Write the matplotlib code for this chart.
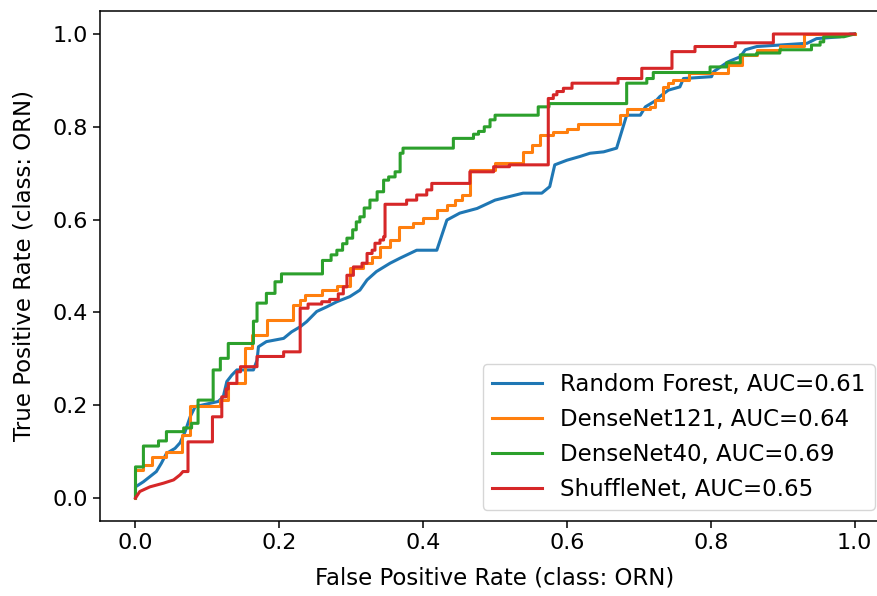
import matplotlib
matplotlib.use("Agg")
import matplotlib.pyplot as plt

# ROC curve points (false positive rate, true positive rate) per model
rf_fpr = [0, 0, 0.011, 0.029, 0.036, 0.043, 0.055, 0.062, 0.069, 0.076, 0.083, 0.115, 0.122,
          0.127, 0.134, 0.141, 0.164, 0.169, 0.171, 0.182, 0.206, 0.217, 0.229, 0.238, 0.252,
          0.266, 0.280, 0.298, 0.312, 0.322, 0.335, 0.354, 0.368, 0.391, 0.419, 0.433, 0.451,
          0.475, 0.500, 0.539, 0.565, 0.576, 0.583, 0.600, 0.618, 0.632, 0.651, 0.669, 0.683,
          0.702, 0.709, 0.725, 0.729, 0.741, 0.757, 0.762, 0.801, 0.804, 0.824, 0.841, 0.848,
          0.864, 0.934, 0.947, 0.980, 0.994, 1.0]
rf_tpr = [0, 0.024, 0.035, 0.057, 0.075, 0.096, 0.107, 0.119, 0.143, 0.175, 0.197, 0.208, 0.218,
          0.251, 0.265, 0.276, 0.276, 0.297, 0.326, 0.337, 0.344, 0.358, 0.369, 0.380, 0.402,
          0.412, 0.423, 0.434, 0.448, 0.470, 0.488, 0.506, 0.517, 0.534, 0.534, 0.599, 0.614,
          0.624, 0.642, 0.657, 0.657, 0.671, 0.718, 0.728, 0.736, 0.743, 0.746, 0.754, 0.825,
          0.825, 0.843, 0.858, 0.865, 0.879, 0.886, 0.904, 0.908, 0.919, 0.940, 0.951, 0.966,
          0.973, 0.980, 0.990, 0.994, 1.0, 1.0]

dn121_fpr = [0, 0, 0.011, 0.011, 0.023, 0.023, 0.043, 0.043, 0.064, 0.064, 0.076, 0.076, 0.118,
             0.118, 0.129, 0.129, 0.152, 0.152, 0.162, 0.162, 0.183, 0.183, 0.219, 0.219, 0.229,
             0.229, 0.236, 0.236, 0.260, 0.260, 0.280, 0.280, 0.298, 0.298, 0.317, 0.317, 0.329,
             0.329, 0.340, 0.340, 0.354, 0.354, 0.366, 0.366, 0.386, 0.386, 0.400, 0.400, 0.419,
             0.419, 0.433, 0.433, 0.444, 0.444, 0.454, 0.454, 0.465, 0.465, 0.500, 0.500, 0.539,
             0.539, 0.551, 0.551, 0.563, 0.563, 0.580, 0.580, 0.600, 0.600, 0.615, 0.615, 0.674,
             0.674, 0.683, 0.683, 0.716, 0.716, 0.722, 0.722, 0.734, 0.734, 0.740, 0.740, 0.748,
             0.748, 0.769, 0.769, 0.824, 0.824, 0.843, 0.843, 0.864, 0.864, 0.896, 0.896, 0.930,
             0.930, 1.0]
dn121_tpr = [0, 0.060, 0.060, 0.071, 0.071, 0.089, 0.089, 0.100, 0.100, 0.136, 0.136, 0.198, 0.198,
             0.211, 0.211, 0.247, 0.247, 0.323, 0.323, 0.352, 0.352, 0.383, 0.383, 0.416, 0.416,
             0.427, 0.427, 0.437, 0.437, 0.448, 0.448, 0.457, 0.457, 0.495, 0.495, 0.506, 0.506,
             0.520, 0.520, 0.542, 0.542, 0.556, 0.556, 0.585, 0.585, 0.592, 0.592, 0.603, 0.603,
             0.621, 0.621, 0.631, 0.631, 0.642, 0.642, 0.653, 0.653, 0.707, 0.707, 0.721, 0.721,
             0.746, 0.746, 0.761, 0.761, 0.782, 0.782, 0.789, 0.789, 0.796, 0.796, 0.807, 0.807,
             0.825, 0.825, 0.838, 0.838, 0.843, 0.843, 0.858, 0.858, 0.886, 0.886, 0.894, 0.894,
             0.900, 0.900, 0.915, 0.915, 0.933, 0.933, 0.955, 0.955, 0.966, 0.966, 0.974, 0.974,
             1.0, 1.0]

dn40_fpr = [0, 0, 0.011, 0.011, 0.032, 0.032, 0.043, 0.043, 0.067, 0.067, 0.078, 0.078, 0.087,
            0.087, 0.108, 0.108, 0.118, 0.118, 0.129, 0.129, 0.164, 0.164, 0.169, 0.169, 0.182,
            0.182, 0.194, 0.194, 0.203, 0.203, 0.260, 0.260, 0.272, 0.272, 0.280, 0.280, 0.288,
            0.288, 0.294, 0.294, 0.302, 0.302, 0.307, 0.307, 0.312, 0.312, 0.318, 0.318, 0.326,
            0.326, 0.336, 0.336, 0.345, 0.345, 0.352, 0.352, 0.361, 0.361, 0.368, 0.368, 0.372,
            0.372, 0.442, 0.442, 0.470, 0.470, 0.477, 0.477, 0.485, 0.485, 0.493, 0.493, 0.500,
            0.500, 0.560, 0.560, 0.575, 0.575, 0.683, 0.683, 0.711, 0.711, 0.720, 0.720, 0.799,
            0.799, 0.822, 0.822, 0.841, 0.841, 0.864, 0.864, 0.896, 0.896, 0.940, 0.940, 0.952,
            0.952, 0.957, 0.957, 0.985, 1.0]
dn40_tpr = [0, 0.067, 0.067, 0.112, 0.112, 0.123, 0.123, 0.143, 0.143, 0.151, 0.151, 0.161, 0.161,
            0.211, 0.211, 0.276, 0.276, 0.301, 0.301, 0.333, 0.333, 0.381, 0.381, 0.420, 0.420,
            0.441, 0.441, 0.466, 0.466, 0.483, 0.483, 0.512, 0.512, 0.524, 0.524, 0.534, 0.534,
            0.548, 0.548, 0.560, 0.560, 0.578, 0.578, 0.595, 0.595, 0.606, 0.606, 0.625, 0.625,
            0.642, 0.642, 0.660, 0.660, 0.685, 0.685, 0.692, 0.692, 0.703, 0.703, 0.743, 0.743,
            0.754, 0.754, 0.775, 0.775, 0.784, 0.784, 0.790, 0.790, 0.800, 0.800, 0.815, 0.815,
            0.825, 0.825, 0.843, 0.843, 0.850, 0.850, 0.894, 0.894, 0.904, 0.904, 0.917, 0.917,
            0.929, 0.929, 0.938, 0.938, 0.955, 0.955, 0.959, 0.959, 0.966, 0.966, 0.976, 0.976,
            0.983, 0.983, 0.994, 0.994, 1.0]

shuffle_fpr = [0, 0.006, 0.020, 0.039, 0.053, 0.062, 0.066, 0.073, 0.073, 0.107, 0.107, 0.120,
               0.120, 0.126, 0.126, 0.129, 0.129, 0.141, 0.141, 0.146, 0.146, 0.169, 0.169, 0.206,
               0.206, 0.229, 0.229, 0.240, 0.240, 0.259, 0.259, 0.270, 0.270, 0.282, 0.282, 0.289,
               0.289, 0.294, 0.294, 0.303, 0.303, 0.315, 0.315, 0.322, 0.322, 0.329, 0.329, 0.333,
               0.333, 0.340, 0.340, 0.345, 0.345, 0.347, 0.347, 0.377, 0.377, 0.391, 0.391, 0.405,
               0.405, 0.412, 0.412, 0.465, 0.465, 0.498, 0.498, 0.520, 0.520, 0.574, 0.574, 0.581,
               0.581, 0.586, 0.586, 0.595, 0.595, 0.607, 0.607, 0.671, 0.671, 0.704, 0.704, 0.746,
               0.746, 0.778, 0.778, 0.834, 0.834, 0.887, 0.887, 1.0]
shuffle_tpr = [0, 0.014, 0.024, 0.032, 0.039, 0.050, 0.057, 0.057, 0.121, 0.121, 0.175, 0.175,
               0.218, 0.218, 0.235, 0.235, 0.247, 0.247, 0.272, 0.272, 0.283, 0.283, 0.305, 0.305,
               0.315, 0.315, 0.409, 0.409, 0.418, 0.418, 0.423, 0.423, 0.428, 0.428, 0.440, 0.440,
               0.455, 0.455, 0.480, 0.480, 0.498, 0.498, 0.506, 0.506, 0.527, 0.527, 0.534, 0.534,
               0.549, 0.549, 0.556, 0.556, 0.563, 0.563, 0.633, 0.633, 0.642, 0.642, 0.653, 0.653,
               0.664, 0.664, 0.678, 0.678, 0.703, 0.703, 0.714, 0.714, 0.718, 0.718, 0.861, 0.861,
               0.869, 0.869, 0.876, 0.876, 0.883, 0.883, 0.894, 0.894, 0.904, 0.904, 0.926, 0.926,
               0.962, 0.962, 0.973, 0.973, 0.981, 0.981, 1.0, 1.0]

model_names = ["Random Forest", "DenseNet121", "DenseNet40", "ShuffleNet"]
model_auc = [0.61, 0.64, 0.69, 0.65]
curves = [(rf_fpr, rf_tpr), (dn121_fpr, dn121_tpr), (dn40_fpr, dn40_tpr), (shuffle_fpr, shuffle_tpr)]
colors = ["#1f77b4", "#ff7f0e", "#2ca02c", "#d62728"]

fig = plt.figure(figsize=(8.77, 5.96), dpi=100)
ax = fig.add_axes([0.1135, 0.1255, 0.902, 0.8564])

for (fpr, tpr), name, auc, c in zip(curves, model_names, model_auc, colors):
    ax.plot(fpr, tpr, color=c, lw=2.2, label=f"{name}, AUC={auc:.2f}")

ax.set_xlim(-0.05, 1.05)
ax.set_ylim(-0.05, 1.05)
ax.set_xticks([0.0, 0.2, 0.4, 0.6, 0.8, 1.0])
ax.set_yticks([0.0, 0.2, 0.4, 0.6, 0.8, 1.0])
ax.tick_params(labelsize=16, length=5, width=1.1)
for s in ax.spines.values():
    s.set_linewidth(1.1)

ax.set_xlabel("False Positive Rate (class: ORN)", fontsize=16.5, labelpad=10)
ax.set_ylabel("True Positive Rate (class: ORN)", fontsize=16.5, labelpad=12)

ax.legend(loc="lower right", bbox_to_anchor=(875 / 877, 86 / 596),
          bbox_transform=fig.transFigure, borderaxespad=0, fontsize=16.5,
          labelspacing=0.52, handlelength=2.2)

fig.savefig("out.png", dpi=100)
